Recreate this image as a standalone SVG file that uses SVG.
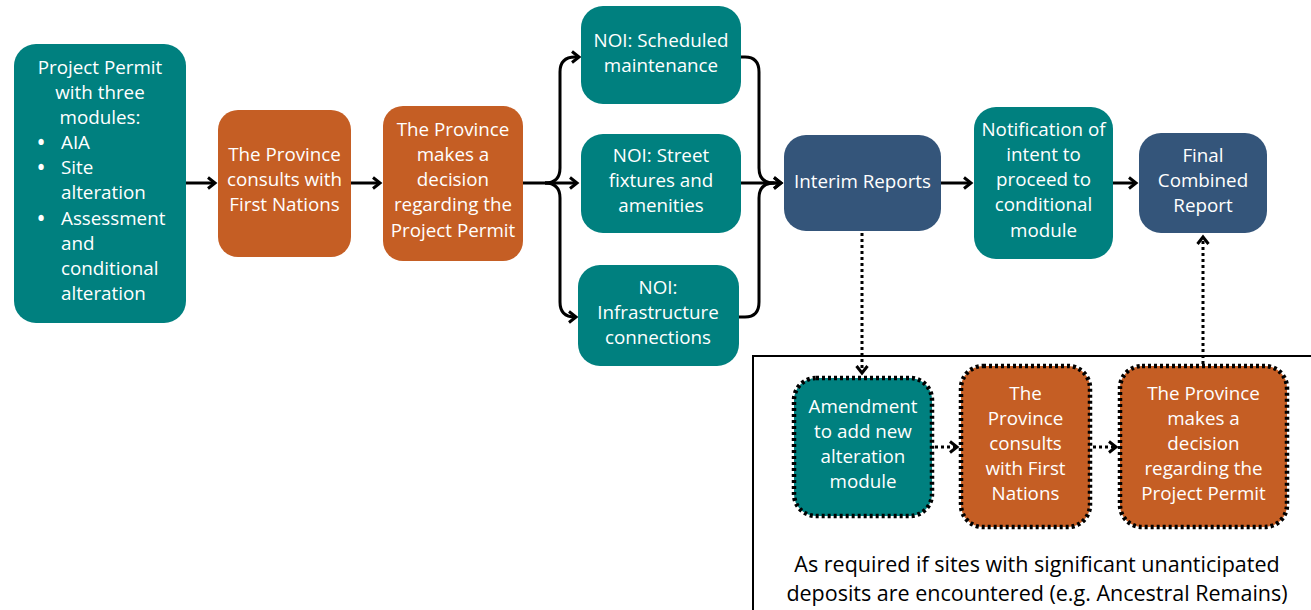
<svg xmlns="http://www.w3.org/2000/svg" width="1311" height="610" viewBox="0 0 1311 610">
<defs>
<style>
text{font-family:"Open Sans","Noto Sans","Liberation Sans",sans-serif;font-size:18.8px;fill:#fff;text-anchor:middle}
.teal{fill:#00807F}
.orange{fill:#C55E24}
.blue{fill:#34557A}
.dot{stroke:#000;stroke-width:4.5;stroke-dasharray:3 3}
.con{fill:none;stroke:#000;stroke-width:3}
.dcon{fill:none;stroke:#000;stroke-width:3;stroke-dasharray:3 3}
.cap{fill:#000;font-size:21.5px}
.bul{font-weight:bold}
</style>
<marker id="ah" markerWidth="12" markerHeight="14" refX="9" refY="7" orient="auto" markerUnits="userSpaceOnUse">
<path d="M2,1.5 L9,7 L2,12.5" fill="none" stroke="#000" stroke-width="3"/>
</marker>
</defs>
<rect width="1311" height="610" fill="#fff"/>

<g id="connectors">
<path class="con" d="M186,183 H215" marker-end="url(#ah)"/>
<path class="con" d="M351,183 H380" marker-end="url(#ah)"/>
<path class="con" d="M523,183 H577" marker-end="url(#ah)"/>
<path class="con" d="M545,183 Q560,183 560,168 V72 Q560,57 575,57 H579" marker-end="url(#ah)"/>
<path class="con" d="M545,183 Q560,183 560,198 V302 Q560,317 575,317 H576" marker-end="url(#ah)"/>
<path class="con" d="M741,57 H745 Q759,57 759,72 V168 Q759,183 774,183 H781" marker-end="url(#ah)"/>
<path class="con" d="M739,317 H745 Q759,317 759,302 V198 Q759,183 774,183"/>
<path class="con" d="M741,183 H781" marker-end="url(#ah)"/>
<path class="con" d="M941,183 H971" marker-end="url(#ah)"/>
<path class="con" d="M1113,183 H1136" marker-end="url(#ah)"/>
<path class="dcon" d="M862,233 V373" marker-end="url(#ah)"/>
<path class="dcon" d="M935,447 H957" marker-end="url(#ah)"/>
<path class="dcon" d="M1093,447 H1116" marker-end="url(#ah)"/>
<path class="dcon" d="M1203,364 V237" marker-end="url(#ah)"/>
</g>

<path d="M753,610 V356 H1311" fill="none" stroke="#000" stroke-width="2"/>

<g id="project-permit">
<rect class="teal" x="14" y="44" width="172" height="279" rx="22"/>
<text x="100" y="74">Project Permit</text>
<text x="100" y="99">with three</text>
<text x="100" y="124">modules:</text>
<text class="bul" x="41" y="149">•</text><text x="61" y="149" style="text-anchor:start">AIA</text>
<text class="bul" x="41" y="174">•</text><text x="61" y="174" style="text-anchor:start">Site</text>
<text x="61" y="199" style="text-anchor:start">alteration</text>
<text class="bul" x="41" y="225">•</text><text x="61" y="225" style="text-anchor:start">Assessment</text>
<text x="61" y="250" style="text-anchor:start">and</text>
<text x="61" y="275" style="text-anchor:start">conditional</text>
<text x="61" y="300" style="text-anchor:start">alteration</text>
</g>

<g id="province-consults">
<rect class="orange" x="218" y="110" width="133" height="147" rx="20"/>
<text x="284.5" y="161">The Province</text>
<text x="284.5" y="186">consults with</text>
<text x="284.5" y="211">First Nations</text>
</g>

<g id="province-decision">
<rect class="orange" x="383" y="106" width="140" height="155" rx="20"/>
<text x="453" y="136">The Province</text>
<text x="453" y="161">makes a</text>
<text x="453" y="186">decision</text>
<text x="453" y="211">regarding the</text>
<text x="453" y="237">Project Permit</text>
</g>

<g id="noi-scheduled">
<rect class="teal" x="581" y="6" width="160" height="98" rx="22"/>
<text x="661" y="47">NOI: Scheduled</text>
<text x="661" y="72">maintenance</text>
</g>

<g id="noi-street">
<rect class="teal" x="581" y="134" width="160" height="99" rx="22"/>
<text x="661" y="162">NOI: Street</text>
<text x="661" y="187">fixtures and</text>
<text x="661" y="212">amenities</text>
</g>

<g id="noi-infrastructure">
<rect class="teal" x="578" y="265" width="161" height="101" rx="22"/>
<text x="658" y="294">NOI:</text>
<text x="658" y="319">Infrastructure</text>
<text x="658" y="344">connections</text>
</g>

<g id="interim-reports">
<rect class="blue" x="784" y="135" width="157" height="96" rx="22"/>
<text x="862.5" y="188">Interim Reports</text>
</g>

<g id="notification">
<rect class="teal" x="974" y="107" width="139" height="152" rx="22"/>
<text x="1043.5" y="136">Notification of</text>
<text x="1043.5" y="161">intent to</text>
<text x="1043.5" y="186">proceed to</text>
<text x="1043.5" y="211">conditional</text>
<text x="1043.5" y="237">module</text>
</g>

<g id="final-report">
<rect class="blue" x="1139" y="133" width="128" height="100" rx="22"/>
<text x="1203" y="162">Final</text>
<text x="1203" y="187">Combined</text>
<text x="1203" y="212">Report</text>
</g>

<g id="amendment">
<rect class="teal dot" x="794" y="378" width="138" height="138" rx="22"/>
<text x="863" y="413">Amendment</text>
<text x="863" y="438">to add new</text>
<text x="863" y="463">alteration</text>
<text x="863" y="488">module</text>
</g>

<g id="province-consults-2">
<rect class="orange dot" x="961" y="366" width="129" height="161" rx="22"/>
<text x="1025.5" y="400">The</text>
<text x="1025.5" y="425">Province</text>
<text x="1025.5" y="450">consults</text>
<text x="1025.5" y="475">with First</text>
<text x="1025.5" y="500">Nations</text>
</g>

<g id="province-decision-2">
<rect class="orange dot" x="1120" y="366" width="167" height="161" rx="22"/>
<text x="1203.5" y="400">The Province</text>
<text x="1203.5" y="425">makes a</text>
<text x="1203.5" y="450">decision</text>
<text x="1203.5" y="475">regarding the</text>
<text x="1203.5" y="500">Project Permit</text>
</g>

<g id="caption">
<text class="cap" x="1037" y="572">As required if sites with significant unanticipated</text>
<text class="cap" x="1037" y="601">deposits are encountered (e.g. Ancestral Remains)</text>
</g>
</svg>
